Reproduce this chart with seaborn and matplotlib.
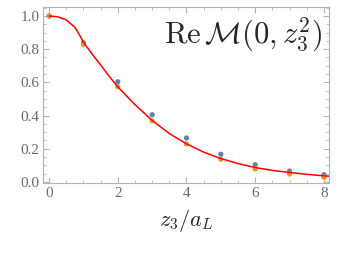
import numpy as np
import pandas as pd
import matplotlib
matplotlib.use("Agg")
import matplotlib.pyplot as plt
import seaborn as sns
from matplotlib.ticker import MultipleLocator

# lattice data points (z3/aL)
z3 = [0, 1, 2, 3, 4, 5, 6, 7, 8]
re_blue = [1.0, 0.839, 0.604, 0.405, 0.265, 0.167, 0.104, 0.066, 0.044]
re_orange = [1.0, 0.827, 0.574, 0.369, 0.229, 0.137, 0.078, 0.048, 0.028]

# fitted curve
curve_z = [0, 0.25, 0.5, 0.75, 0.875, 1.0, 1.25, 1.5, 1.75, 2.0, 2.5, 3.0,
           3.5, 4.0, 4.5, 5.0, 5.5, 6.0, 6.5, 7.0, 7.5, 8.0, 8.15]
curve_re = [1.0, 0.995, 0.977, 0.932, 0.89, 0.842, 0.772, 0.705, 0.637, 0.573,
            0.466, 0.371, 0.292, 0.23, 0.18, 0.141, 0.111, 0.087, 0.07, 0.057,
            0.046, 0.037, 0.035]

BLUE = "#5E81B5"
ORANGE = "#E19C24"

sns.set_style("ticks")
plt.rcParams["font.family"] = ["Liberation Serif", "DejaVu Serif"]
plt.rcParams["mathtext.fontset"] = "cm"

pts = pd.DataFrame({"z": z3 + z3,
                    "re": re_blue + re_orange,
                    "set": ["a"] * len(z3) + ["b"] * len(z3)})
line = pd.DataFrame({"z": curve_z, "re": curve_re})

fig = plt.figure(figsize=(3.46, 2.60), dpi=100)
ax = fig.add_axes([0.125, 0.295, 0.826, 0.678])

sns.scatterplot(data=pts, x="z", y="re", hue="set",
                palette={"a": BLUE, "b": ORANGE}, s=14, linewidth=0,
                legend=False, ax=ax, zorder=2)
sns.lineplot(data=line, x="z", y="re", color="red", lw=1.1, ax=ax, zorder=3)

ax.set_xlim(-0.17, 8.15)
ax.set_ylim(-0.008, 1.054)
ax.xaxis.set_major_locator(MultipleLocator(2))
ax.xaxis.set_minor_locator(MultipleLocator(0.5))
ax.yaxis.set_major_locator(MultipleLocator(0.2))
ax.yaxis.set_minor_locator(MultipleLocator(0.05))
ax.set_xticklabels([f"{int(t)}" for t in ax.get_xticks()])
ax.set_yticklabels([f"{t:.1f}" for t in ax.get_yticks()])

frame = "#b4b4b4"
for s in ax.spines.values():
    s.set_color(frame)
    s.set_linewidth(0.8)
ax.tick_params(which="both", direction="in", top=True, right=True,
               color=frame, labelcolor="#6a6a6a", labelsize=11, pad=2.5)
ax.tick_params(which="major", length=4, width=0.8)
ax.tick_params(which="minor", length=2.2, width=0.6)

ax.set_xlabel(r"$z_3/a_L$", fontsize=16, labelpad=5)
ax.set_ylabel("")
ax.text(0.975, 0.84, r"$\mathrm{Re}\,\mathcal{M}(0,z_3^2)$",
        transform=ax.transAxes, ha="right", va="center", fontsize=22)

fig.savefig("out.png", dpi=100)
